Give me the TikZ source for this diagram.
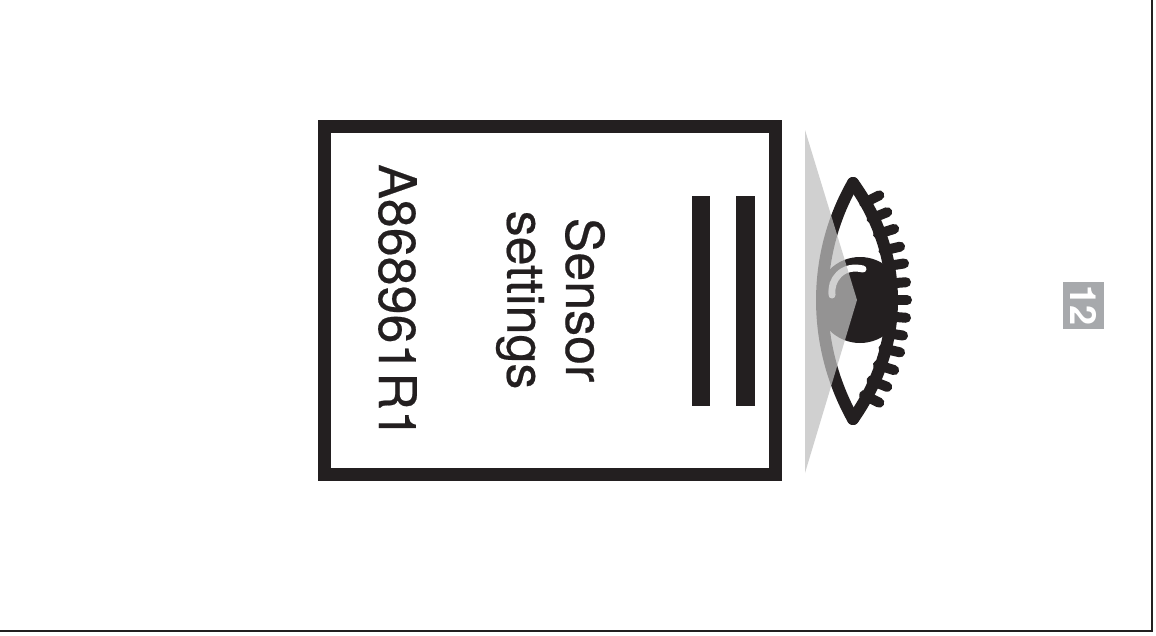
\documentclass[tikz,border=0pt]{standalone}
\usepackage{fontspec}
\setmainfont{TeX Gyre Heros}
\newfontfamily\labelfont[FakeBold=0.4]{TeX Gyre Heros}
\usetikzlibrary{calc}
\definecolor{ink}{HTML}{231F20}
\definecolor{badge}{HTML}{A7A9AC}
\tikzset{
  frameline/.style={draw=ink,line width=2.6pt},
  lid/.style={draw=ink,line width=12pt,line cap=round,line join=round},
  lash/.style={draw=ink,line width=10pt,line cap=round},
  cone/.style={fill={rgb,255:red,191;green,191;blue,191},fill opacity=.73},
  bar/.style={fill=ink},
  label/.style={rotate=-90,text=ink,font=\labelfont\fontsize{52}{60}\selectfont,inner sep=0pt},
}
\begin{document}
\begin{tikzpicture}[x=1pt,y=-1pt]
\useasboundingbox (0,0) rectangle (1156,635);
\fill[white] (0,0) rectangle (1156,635);
\draw[frameline] (1152,0) -- (1152,631) -- (0,631);
% card
\draw[draw=ink,line width=13pt] (324.5,126.5) rectangle (775.5,474);
\fill[bar] (692,196) rectangle (710,406);
\fill[bar] (736,196) rectangle (755,406);
\node[label] (sensor) at (585,300) {Sensor};
\node[label] (settings) at (520,300) {settings};
\node[label] (code) at (397.5,301.5) {A868961R1};
% eye
\begin{scope}
\clip (853,183) .. controls (811.7,255) and (811.7,345) .. (853,419) .. controls (905,345) and (905,255) .. cycle;
\fill[ink] (860,300) circle (43);
\end{scope}
\draw[draw=white,line width=7pt,line cap=round] (863,269) .. controls (842,264) and (830,280) .. (832,295);
\draw[lid] (853,183) .. controls (811.7,255) and (811.7,345) .. (853,419);
\draw[lid] (853,183) .. controls (905,255) and (905,345) .. (853,419);
\coordinate (lashcentre) at (670,300);
\foreach \i/\ex/\ey in {1/882/194,2/890/211,3/897/228,4/903/246,5/907/263,6/909/282,7/910/300,8/909/318,9/906/336,10/903/353,11/897/371,12/890/388,13/882/404}{
  \coordinate (tip\i) at (\ex,\ey);
  \draw[lash] ($(tip\i)!3pt!(lashcentre)$) -- ($(tip\i)!20pt!(lashcentre)$);
}
\fill[cone] (805,130) -- (857,300) -- (805,473) -- cycle;
% badge
\node[fill=badge,minimum width=41pt,minimum height=47pt,inner sep=0pt] (badgebox) at (1083.5,305.5) {};
\node[rotate=-90,text=white,font=\bfseries\fontsize{36}{40}\selectfont,inner sep=0pt] (badgetext) at (badgebox.center) {12};
\end{tikzpicture}
\end{document}
